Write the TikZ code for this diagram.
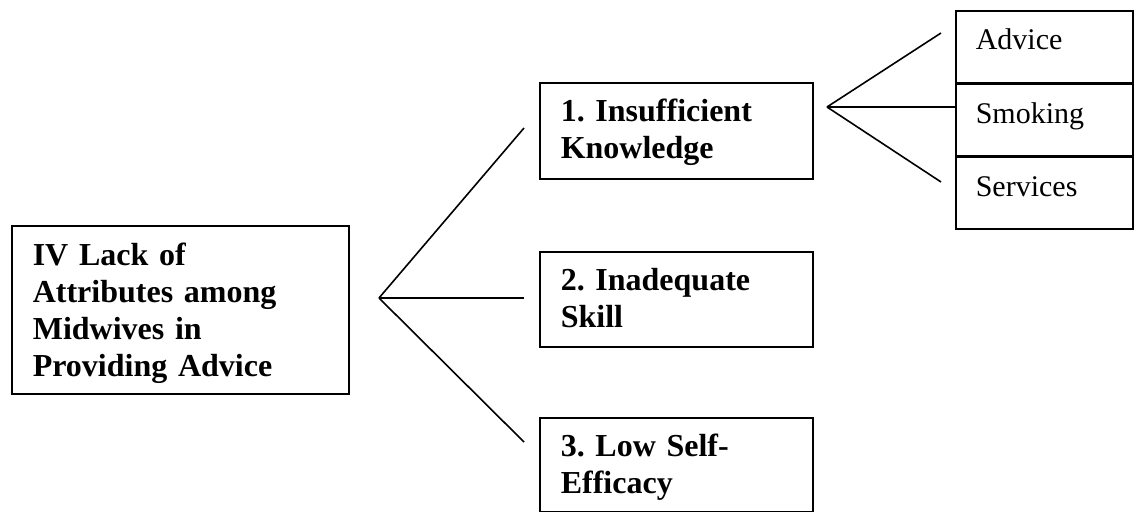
\documentclass[tikz,border=0pt]{standalone}
\usepackage{fontspec}
\setmainfont{Liberation Serif}
\frenchspacing

\begin{document}
\begin{tikzpicture}[x=0.5pt, y=-0.5pt, line width=0.8pt,
        bigbox/.style={draw, anchor=north west, align=left, inner xsep=10.5pt, inner ysep=0pt, font=\fontsize{16}{18.5}\selectfont\bfseries},
        smallbox/.style={draw, anchor=north west, align=left, inner xsep=10pt, inner ysep=0pt, text width=68.5pt, text height=19.5pt, text depth=16.35pt, font=\fontsize{15}{17}\selectfont}]
        \useasboundingbox (0, 0) rectangle (1134, 512);

        \node[bigbox, text width=147.5pt, text height=20pt, text depth=64pt] (lack) at (11, 225) {IV Lack of\\Attributes among\\Midwives in\\Providing Advice};

        \node[bigbox, text width=115.5pt, text height=19.5pt, text depth=28.5pt] (know) at (539, 82) {1. Insufficient\\Knowledge};
        \node[bigbox, text width=115.5pt, text height=19.5pt, text depth=28pt] (skill) at (539, 251) {2. Inadequate\\Skill};
        \node[bigbox, text width=115.5pt, text height=19.5pt, text depth=27.5pt] (efficacy) at (539, 417) {3. Low Self-\\Efficacy};

        \node[smallbox] (advice) at (955, 10) {Advice};
        \node[smallbox] (smoking) at (advice.south west) {Smoking};
        \node[smallbox] (services) at (smoking.south west) {Services};

        \coordinate (lackfan) at (379, 298);
        \coordinate (toknow) at (524, 128);
        \coordinate (toskill) at (524, 298);
        \coordinate (toefficacy) at (524, 442);
        \draw (lackfan) -- (toknow);
        \draw (lackfan) -- (toskill);
        \draw (lackfan) -- (toefficacy);

        \coordinate (knowfan) at (827, 107);
        \coordinate (toadvice) at (941, 33);
        \coordinate (toservices) at (941, 182);
        \draw (knowfan) -- (toadvice);
        \draw (knowfan) -- (knowfan -| smoking.west);
        \draw (knowfan) -- (toservices);
    \end{tikzpicture}
\end{document}
